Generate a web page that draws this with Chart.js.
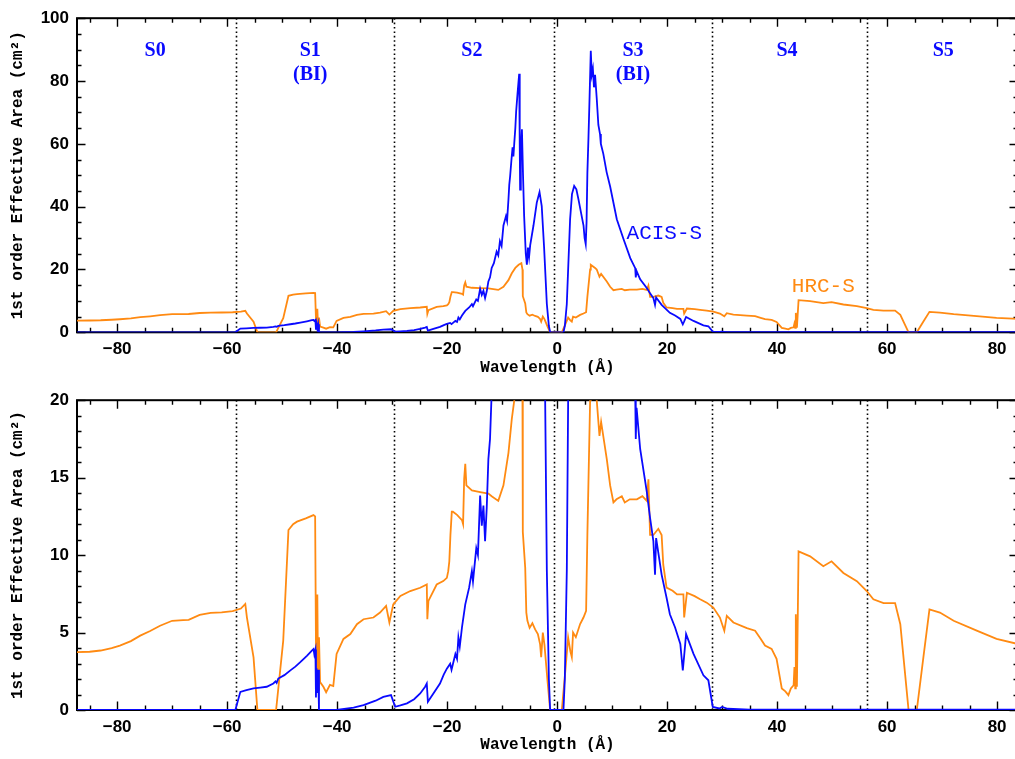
<!DOCTYPE html>
<html>
<head>
<meta charset="utf-8">
<script src="https://cdn.jsdelivr.net/npm/chart.js@4.4.1/dist/chart.umd.min.js"></script>
<style>
html, body { margin: 0; padding: 0; background: #fff; overflow: hidden; width: 1015px; height: 759px; }
canvas { position: absolute; left: 0; display: block; }
#areaFull { top: 0; }
#areaZoom { top: 382px; }
</style>
</head>
<body>
<canvas id="areaFull" width="1022" height="382"></canvas>
<canvas id="areaZoom" width="1022" height="377"></canvas>
<script>
// ACIS-S first order effective area (cm^2) vs dispersed wavelength (Angstrom)
const acisWave = [-87.3, -58.5, -58.2, -57.6, -56.5, -55.2, -54, -52.8, -51.6, -51.2, -51.0, -50.7, -49.6, -48.5, -47.6, -46.7, -45.5, -44.6, -44.3, -44.15, -43.95, -43.85, -43.75, -43.6, -43.45, -43.3,
  -40.1, -37, -35.2, -33, -31.6, -30.2, -29.45, -28.5, -27.3, -26, -24.9, -24.0, -23.7, -23.5, -22.5, -21.3, -20.6, -20.05, -19.45, -19.2, -18.5, -18.2, -17.95, -17.7, -17.3, -16.7, -16.0, -15.5, -15.3,
  -14.7, -14.4, -14.0, -13.7, -13.4, -13.1, -12.8, -12.5, -12.2, -11.9, -11.5, -11.0, -10.7, -10.4, -10.1, -9.76, -9.3, -9.1, -8.85, -8.7, -8.55, -8.3, -8.1, -7.95, -7.8, -7.6, -7.45, -7.2, -6.9,
  -6.8, -6.73, -6.6, -6.4, -6.2, -6.0, -5.7, -5.5, -5.3, -5.1, -4.9, -4.3, -3.7, -3.2, -2.8, -2.36, -1.87, -1.5, -1.27,
  1.15, 1.4, 1.76, 2.36, 2.7, 3.1, 3.5, 3.88, 4.3, 4.8, 5.0, 5.2, 5.35, 5.5, 5.7, 5.88, 6.12, 6.3, 6.5, 6.7, 6.9, 7.2, 7.5, 7.8, 7.95, 8.4, 9.0, 9.64, 10.85, 12.05, 13.3, 14.2, 14.3, 14.45,
  15.1, 16.3, 16.9, 17.5, 17.8, 18.0, 19.0, 19.9, 20.5, 21.45, 22.4, 22.85, 23.1, 23.45, 24.8, 26.6, 27.5, 28.3, 29.5, 30.0, 31, 35, 83.8];
const acisArea = [0, 0, 0.4, 1.17, 1.28, 1.39, 1.45, 1.5, 1.71, 1.85, 1.75, 2.03, 2.25, 2.56, 2.8, 3.09, 3.5, 3.84, 3.94, 3.6, 3.9, 0.8, 2.7, 1.1, 2.6, 0,
  0, 0.15, 0.32, 0.6, 0.85, 0.96, 0.21, 0.3, 0.43, 0.7, 1.07, 1.5, 1.71, 0.53, 1.07, 1.71, 2.3, 2.67, 2.99, 2.6, 3.62, 3.3, 4.69, 4.1, 5.33, 6.82, 7.9, 8.96, 8.3,
  10.45, 10.0, 13.84, 11.9, 13.2, 10.9, 13.05, 16.2, 17.5, 20.5, 22, 25.7, 24.5, 29, 27.5, 34, 37, 35.5, 42.3, 47, 49.6, 55, 58.9, 56, 60, 65, 70.3, 76, 82.3,
  60, 45.4, 57.9, 64.6, 50, 37.1, 25, 21.5, 27, 24, 27.7, 34, 41.3, 44.6, 40.2, 26.7, 9, 2, 0,
  0, 2, 9, 36, 44, 46.6, 45.5, 42.3, 38.5, 34, 30, 28.1, 35, 50.6, 62, 73.5, 89.6, 82, 83.9, 78, 82, 74.5, 66, 63.1, 60, 56.8, 51, 46.4, 36, 29.8, 23.6, 20.4, 17.5, 19.5,
  16.85, 14.1, 12.4, 10.9, 8.74, 11.1, 8.74, 7.25, 6.18, 5.33, 4.26, 2.56, 3.5, 4.9, 3.62, 2.24, 1.92, 0.2, 0.1, 0.2, 0.08, 0.03, 0.02];

// HRC-S first order effective area (cm^2) vs dispersed wavelength (Angstrom)
const hrcWave = [-87.3, -85, -83, -81, -79.5, -77.5, -75.8, -74, -72.2, -70, -68, -67, -65, -63, -61, -59, -57.5, -56.7, -56.4, -55.2, -54.5, -51.1, -49.8, -48.85, -48, -47.3, -45.7, -44.3, -44.0,
  -43.8, -43.6, -43.45, -43.3, -43.1, -42.5, -42.0, -41.3, -40.7, -40.1, -38.85, -37.6, -36.4, -35.2, -33.4, -32.2, -31.1, -30.5, -29.8, -28.5, -26.7, -24.9, -23.7, -23.6, -23.4, -21.9, -20.7,
  -20.05, -19.8, -19.6, -19.4, -19.15, -18.95, -18.2, -17.3, -17.1, -16.9, -16.7, -16.5, -15.5, -14.0, -12.5, -11.9, -10.7, -9.76, -8.85, -8.24, -7.6, -7.0, -6.5, -6.3, -6.24, -5.8, -5.6, -5.4,
  -5.0, -4.5, -4.0, -3.5, -3.1, -2.9, -2.6, -2.3, -1.76, -1.27,
  0.85, 1.45, 2.0, 2.4, 2.67, 2.9, 3.4, 4.18, 4.79, 5.27, 5.5, 6.0, 6.12, 6.9, 7.2, 7.7, 8.0, 9.03, 9.64, 10.24, 10.8, 11.76, 12.3, 13.2, 14.5, 15.5, 16.3, 16.6, 16.9, 17.5, 18.4, 19.0, 19.3,
  19.9, 21.0, 21.8, 22.96, 23.1, 23.6, 25, 26, 27.2, 28.4, 29.6, 30.4, 30.85, 32.05, 34.5, 36.0, 37.0, 37.8, 39.0, 39.9, 40.85, 41.5, 42.05, 42.5, 43.0, 43.15, 43.3, 43.4, 43.6, 43.9,
  46.0, 48.4, 49.9, 52.05, 54.5, 56.3, 57.5, 59.35, 61.45, 62.4, 63.9, 65.4, 66.6, 67.7, 69.6, 72.1, 76.3, 79.9, 83.8];
const hrcArea = [3.73, 3.76, 3.84, 4.0, 4.16, 4.45, 4.8, 5.1, 5.44, 5.76, 5.8, 5.82, 6.14, 6.27, 6.3, 6.38, 6.55, 6.85, 5.97, 3.4, 0, 0, 4.48, 11.62, 12.0, 12.16, 12.37, 12.58, 12.5,
  1.5, 7.46, 1.3, 4.7, 1.8, 1.5, 1.15, 1.62, 1.55, 3.62, 4.59, 4.9, 5.54, 5.86, 5.97, 6.29, 6.72, 5.65, 6.82, 7.36, 7.68, 7.89, 8.1, 5.86, 7.04, 8.1, 8.32,
  8.53, 8.96, 9.6, 11.3, 12.8, 12.8, 12.6, 12.26, 12.0, 14.93, 15.9, 14.5, 14.18, 14.07, 13.97, 13.8, 13.5, 14.5, 16.6, 18.8, 20.5, 21.5, 22.0, 20, 11.5, 9.17, 6.29, 5.76,
  5.3, 5.6, 5.2, 4.9, 4.26, 3.41, 5.0, 4.2, 1.92, 0,
  0, 2.35, 4.69, 3.8, 3.41, 5.0, 4.7, 5.55, 5.97, 6.4, 11.3, 20, 21.5, 20.5, 20, 17.7, 18.6, 16.2, 14.5, 13.4, 13.6, 13.8, 13.4, 13.6, 13.6, 13.8, 13.5, 14.9, 11.3, 11.3, 11.7, 11.3, 9.38,
  7.9, 7.7, 7.46, 7.46, 5.97, 7.57, 7.35, 7.15, 6.93, 6.61, 5.97, 5.12, 6.08, 5.65, 5.29, 5.12, 4.6, 4.16, 3.94, 3.3, 1.39, 1.2, 0.96, 1.39, 1.6, 2.77, 1.4, 6.18, 1.5, 10.24,
  9.92, 9.28, 9.6, 8.85, 8.32, 7.68, 7.15, 6.9, 6.9, 5.54, 0, 0, 3.41, 6.5, 6.29, 5.76, 5.12, 4.59, 4.26];

// ACIS-S chip layout along the dispersion axis (Angstrom)
const chipEdges = [-58.4, -29.6, -0.55, 28.2, 56.4];
const chipNames = ['S0', 'S1', 'S2', 'S3', 'S4', 'S5'];
const chipNotes = ['', '(BI)', '', '(BI)', '', ''];
const chipCenters = [-73.1, -44.9, -15.5, 13.8, 41.8, 70.2];

// axis ticks
const xRange = [-87.3, 83.8];
const xLabelTicks = [-80, -60, -40, -20, 0, 20, 40, 60, 80];
const yLabelTicksFull = [0, 20, 40, 60, 80, 100];
const yLabelTicksZoom = [0, 5, 10, 15, 20];

const BLUE = '#0a0aff';
const ORANGE = '#ff8a12';

function steps(from, to, step) {
  const out = [];
  for (let v = from; v <= to + 1e-9; v += step) out.push(Math.round(v * 1000) / 1000);
  return out;
}
const xMinorTicks = steps(-85, 80, 5);

function pairs(xs, ys) { return xs.map((x, i) => ({ x: x, y: ys[i] })); }

function signed(v) { return v < 0 ? '\u2212' + Math.abs(v) : String(v); }

// inward IDL-style tick marks on all four sides, plus dotted chip boundaries
const axisFrame = {
  id: 'axisFrame',
  beforeDatasetsDraw(chart, args, opts) {
    const { ctx, chartArea: a } = chart;
    const xs = chart.scales.x, ys = chart.scales.y;
    ctx.save();
    ctx.strokeStyle = '#000';
    ctx.lineWidth = 1.6;
    ctx.setLineDash([1.6, 2.8]);
    for (const e of chipEdges) {
      const px = Math.round(xs.getPixelForValue(e)) + 0.5;
      ctx.beginPath(); ctx.moveTo(px, a.top); ctx.lineTo(px, a.bottom); ctx.stroke();
    }
    ctx.setLineDash([]);
    ctx.lineWidth = 1.4;
    ctx.beginPath();
    for (const t of xs.ticks) {
      const px = Math.round(xs.getPixelForValue(t.value)) + 0.5;
      const len = xLabelTicks.includes(t.value) ? 8.5 : 4.5;
      ctx.moveTo(px, a.bottom); ctx.lineTo(px, a.bottom - len);
      ctx.moveTo(px, a.top); ctx.lineTo(px, a.top + len);
    }
    for (const t of ys.ticks) {
      const py = Math.round(ys.getPixelForValue(t.value)) + 0.5;
      const len = opts.yLabels.includes(t.value) ? 8.5 : 4.5;
      ctx.moveTo(a.left, py); ctx.lineTo(a.left + len, py);
      ctx.moveTo(a.right, py); ctx.lineTo(a.right - len, py);
    }
    ctx.stroke();
    ctx.lineWidth = 2;
    ctx.strokeRect(a.left, a.top, a.right - a.left, a.bottom - a.top);
    ctx.restore();
  }
};

// chip names and instrument labels
const chipLabels = {
  id: 'chipLabels',
  afterDatasetsDraw(chart, args, opts) {
    if (!opts.show) return;
    const { ctx, chartArea: a } = chart;
    const xs = chart.scales.x, ys = chart.scales.y;
    ctx.save();
    ctx.textAlign = 'center';
    ctx.textBaseline = 'middle';
    ctx.fillStyle = BLUE;
    ctx.font = 'bold 20px "Liberation Serif"';
    chipNames.forEach((name, i) => {
      const px = xs.getPixelForValue(chipCenters[i]);
      ctx.fillText(name, px, a.top + 33);
      if (chipNotes[i]) ctx.fillText(chipNotes[i], px, a.top + 57);
    });
    ctx.font = '21px "Liberation Mono"';
    ctx.fillText('ACIS-S', xs.getPixelForValue(19.5), ys.getPixelForValue(31.6));
    ctx.fillStyle = ORANGE;
    ctx.fillText('HRC-S', xs.getPixelForValue(48.4), ys.getPixelForValue(14.6));
    ctx.restore();
  }
};

function makeChart(id, cfg) {
  const titleFont = { family: 'Liberation Mono', size: 16, weight: 'bold' };
  const tickFont = { family: 'Liberation Sans', size: 17, weight: 'bold' };
  return new Chart(document.getElementById(id), {
    type: 'line',
    data: {
      datasets: [
        { label: 'ACIS-S', data: pairs(acisWave, acisArea), borderColor: BLUE, borderWidth: 1.8, pointRadius: 0, tension: 0, fill: false },
        { label: 'HRC-S', data: pairs(hrcWave, hrcArea), borderColor: ORANGE, borderWidth: 1.8, pointRadius: 0, tension: 0, fill: false }
      ]
    },
    plugins: [axisFrame, chipLabels],
    options: {
      responsive: false,
      animation: false,
      devicePixelRatio: 1,
      layout: { padding: { top: cfg.padTop, right: 4, left: 0, bottom: 0 } },
      plugins: {
        legend: { display: false },
        tooltip: { enabled: false },
        axisFrame: { yLabels: cfg.yLabels },
        chipLabels: { show: cfg.annotate }
      },
      scales: {
        x: {
          type: 'linear',
          min: xRange[0], max: xRange[1],
          grid: { display: false, drawTicks: false },
          border: { display: false },
          afterBuildTicks: s => { s.ticks = xMinorTicks.map(v => ({ value: v })); },
          afterFit: s => { s.height = cfg.xHeight; },
          ticks: {
            autoSkip: false, maxRotation: 0, padding: 7, color: '#000', font: tickFont,
            callback: v => (xLabelTicks.includes(v) ? signed(v) : '')
          },
          title: { display: true, text: 'Wavelength (\u00c5)', color: '#000', font: titleFont, padding: { top: 0, bottom: 4 } }
        },
        y: {
          type: 'linear',
          min: 0, max: cfg.yMax,
          grid: { display: false, drawTicks: false },
          border: { display: false },
          afterBuildTicks: s => { s.ticks = steps(0, cfg.yMax, cfg.yStep).map(v => ({ value: v })); },
          afterFit: s => { s.width = 77; },
          ticks: {
            autoSkip: false, padding: 8, color: '#000', font: tickFont,
            callback: v => (cfg.yLabels.includes(v) ? String(v) : '')
          },
          title: { display: true, text: '1st order Effective Area (cm\u00b2)', color: '#000', font: titleFont, padding: { top: 8, bottom: 0 } }
        }
      }
    }
  });
}

makeChart('areaFull', { yMax: 100, yStep: 5, yLabels: yLabelTicksFull, annotate: true, padTop: 12.3, xHeight: 49.7 });
makeChart('areaZoom', { yMax: 20, yStep: 1, yLabels: yLabelTicksZoom, annotate: false, padTop: 15.3, xHeight: 49 });
</script>
</body>
</html>
